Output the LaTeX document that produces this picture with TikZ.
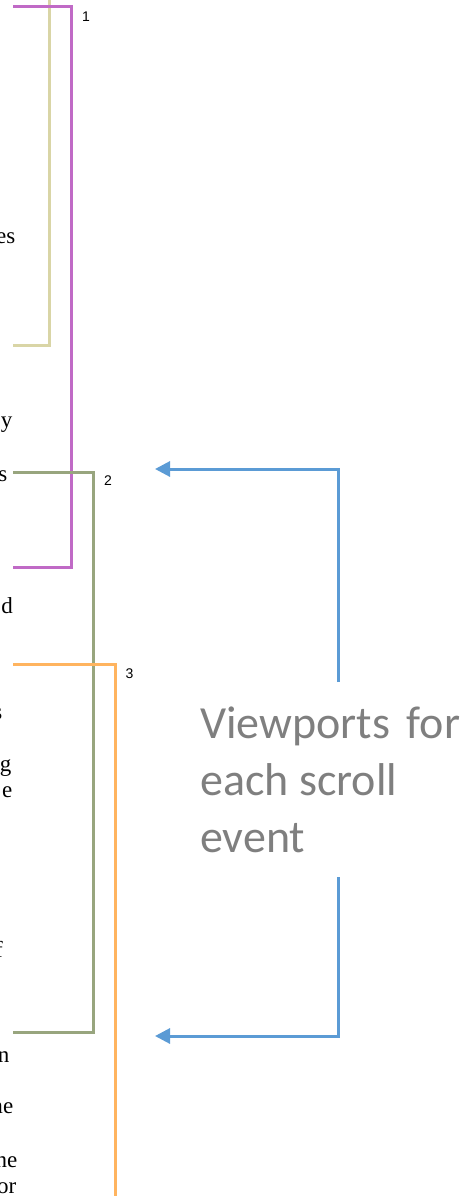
\documentclass[tikz,border=0pt]{standalone}
\usepackage{fontspec}
\setmainfont{Liberation Serif}
\newfontfamily\calfont{Carlito}
\newfontfamily\numfont{Liberation Sans}
\usetikzlibrary{arrows.meta}
\definecolor{lpurple}{RGB}{192,106,198}
\definecolor{ltan}{RGB}{217,213,166}
\definecolor{lgreen}{RGB}{152,165,126}
\definecolor{lorange}{RGB}{255,180,95}
\definecolor{lblue}{RGB}{91,155,213}
\definecolor{lgray}{RGB}{127,127,127}
\tikzset{
  bracket/.style={line width=3pt, line join=miter, line cap=butt},
  bluearrow/.style={line width=3pt, draw=lblue, line join=miter, -{Triangle[length=15pt,width=15pt]}},
  numlabel/.style={font=\numfont\fontsize{14pt}{16pt}\selectfont, inner sep=0pt, anchor=center},
  frag/.style={font=\fontsize{23pt}{26pt}\selectfont, inner sep=0pt, anchor=base east},
  bigtext/.style={font=\calfont\fontsize{46pt}{56pt}\selectfont, text=lgray, inner sep=0pt, anchor=base west}
}
\begin{document}
\begin{tikzpicture}[x=1pt,y=-1pt]
\useasboundingbox (0,0) rectangle (462,1196);
\begin{scope}
\clip (0,0) rectangle (462,1196);
% text fragments cut at the left edge
\node[frag] (f1) at (15.5,243) {es};
\node[frag] (f2) at (12.5,427) {y};
\node[frag] (f3) at (7.5,481) {s};
\node[frag] (f4) at (13,613) {d};
\node[frag] (f5) at (2.5,719) {s};
\node[frag] (f6) at (11.5,771) {g};
\node[frag] (f7) at (12.5,797) {e};
\node[frag] (f8) at (3,957) {f};
\node[frag] (f9) at (9.5,1062) {n};
\node[frag] (f10) at (13.5,1113) {me};
\node[frag] (f11) at (17.5,1167) {ne};
\node[frag] (f12) at (16.5,1193) {or};

% tan bracket
\coordinate (tanA) at (49,-5);
\coordinate (tanB) at (49,345);
\coordinate (tanC) at (13,345);
\draw[bracket, draw=ltan] (tanA) -- (tanB) -- (tanC);

% purple bracket
\coordinate (puA) at (13,7);
\coordinate (puB) at (71,7);
\coordinate (puC) at (71,567);
\coordinate (puD) at (13,567);
\draw[bracket, draw=lpurple] (puA) -- (puB) -- (puC) -- (puD);

% green bracket
\coordinate (grA) at (13,472);
\coordinate (grB) at (93,472);
\coordinate (grC) at (93,1032);
\coordinate (grD) at (13,1032);
\draw[bracket, draw=lgreen] (grA) -- (grB) -- (grC) -- (grD);

% orange bracket
\coordinate (orA) at (13,664);
\coordinate (orB) at (115,664);
\coordinate (orC) at (115,1205);
\draw[bracket, draw=lorange] (orA) -- (orB) -- (orC);
\end{scope}

% number labels
\node[numlabel] (n1) at (86,16.5) {1};
\node[numlabel] (n2) at (108,481) {2};
\node[numlabel] (n3) at (129.5,673.5) {3};

% blue arrows
\coordinate (buA) at (338,682);
\coordinate (buB) at (338,469);
\coordinate (buC) at (155,469);
\draw[bluearrow] (buA) -- (buB) -- (buC);
\coordinate (bdA) at (338,877);
\coordinate (bdB) at (338,1036);
\coordinate (bdC) at (155,1036);
\draw[bluearrow] (bdA) -- (bdB) -- (bdC);

% caption
\node[bigtext] (vp1) at (200,738) {Viewports\hskip0.36em for};
\node[bigtext] (vp2) at (200,795) {each scroll};
\node[bigtext] (vp3) at (200,852) {event};
\end{tikzpicture}
\end{document}
